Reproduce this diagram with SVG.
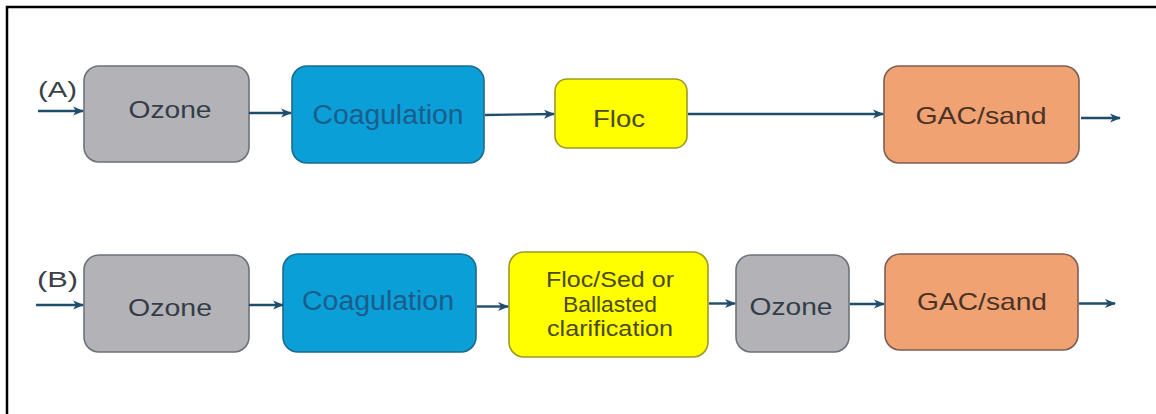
<svg xmlns="http://www.w3.org/2000/svg" width="1156" height="414" viewBox="0 0 1156 414">
<defs>
<style>
.frame{stroke:#000;stroke-width:2.5;fill:none}
.box{stroke-width:1.6}
.gray{fill:#b3b3b7;stroke:#6b727a}
.blue{fill:#0b9fd8;stroke:#1d6a8e}
.yellow{fill:#ffff00;stroke:#9c9a22}
.orange{fill:#f0a272;stroke:#7d5e52}
.t{font-family:"Liberation Sans",Arial,sans-serif;text-anchor:middle}
.tg{fill:#333d48}
.tb{fill:#1a5d8c}
.ty{fill:#4b4a12}
.to{fill:#4a3326}
.lbl{font-family:"Liberation Sans",Arial,sans-serif;fill:#3a3f48;font-size:22px}
.c{stroke:#1f4d6b;stroke-width:2.4;fill:none;marker-end:url(#ah)}
</style>
<marker id="ah" markerWidth="12" markerHeight="12" refX="10" refY="6" orient="auto" markerUnits="userSpaceOnUse">
<path d="M0,1.5 L11,6 L0,10.5 L3,6 Z" fill="#1f4d6b"/>
</marker>
</defs>
<rect width="1156" height="414" fill="#fff"/>
<path class="frame" d="M7,414 V7 H1156"/>

<g id="labels">
<text class="lbl" x="38" y="97" textLength="39" lengthAdjust="spacingAndGlyphs">(A)</text>
<text class="lbl" x="37" y="287" textLength="41" lengthAdjust="spacingAndGlyphs">(B)</text>
</g>

<g id="a-ozone">
<rect class="box gray" x="84" y="66" width="165" height="96" rx="15"/>
<text class="t tg" x="170" y="118" font-size="23" textLength="83" lengthAdjust="spacingAndGlyphs">Ozone</text>
</g>
<g id="a-coagulation">
<rect class="box blue" x="292" y="66" width="192" height="97" rx="15"/>
<text class="t tb" x="388" y="124" font-size="27" textLength="151" lengthAdjust="spacingAndGlyphs">Coagulation</text>
</g>
<g id="a-floc">
<rect class="box yellow" x="555" y="79" width="132" height="69" rx="12"/>
<text class="t ty" x="619" y="127" font-size="24" textLength="52" lengthAdjust="spacingAndGlyphs">Floc</text>
</g>
<g id="a-gac">
<rect class="box orange" x="884" y="66" width="195" height="97" rx="15"/>
<text class="t to" x="981" y="124" font-size="24" textLength="131" lengthAdjust="spacingAndGlyphs">GAC/sand</text>
</g>

<g id="b-ozone1">
<rect class="box gray" x="84" y="255" width="165" height="97" rx="15"/>
<text class="t tg" x="170" y="316" font-size="23" textLength="84" lengthAdjust="spacingAndGlyphs">Ozone</text>
</g>
<g id="b-coagulation">
<rect class="box blue" x="283" y="254" width="193" height="98" rx="15"/>
<text class="t tb" x="378" y="310" font-size="27" textLength="152" lengthAdjust="spacingAndGlyphs">Coagulation</text>
</g>
<g id="b-floc">
<rect class="box yellow" x="509" y="252" width="199" height="105" rx="15"/>
<text class="t ty" x="610" y="286.5" font-size="22.5" textLength="128" lengthAdjust="spacingAndGlyphs">Floc/Sed or</text>
<text class="t ty" x="610" y="312" font-size="22.5" textLength="94" lengthAdjust="spacingAndGlyphs">Ballasted</text>
<text class="t ty" x="610" y="336" font-size="22.5" textLength="126" lengthAdjust="spacingAndGlyphs">clarification</text>
</g>
<g id="b-ozone2">
<rect class="box gray" x="736" y="255" width="113" height="97" rx="15"/>
<text class="t tg" x="791" y="315" font-size="23" textLength="83" lengthAdjust="spacingAndGlyphs">Ozone</text>
</g>
<g id="b-gac">
<rect class="box orange" x="885" y="254" width="193" height="96" rx="15"/>
<text class="t to" x="982" y="310" font-size="24" textLength="130" lengthAdjust="spacingAndGlyphs">GAC/sand</text>
</g>

<g id="connectors">
<path class="c" d="M38,111 H83"/>
<path class="c" d="M249,113 H291"/>
<path class="c" d="M485,115 L554,114"/>
<path class="c" d="M688,114 H883"/>
<path class="c" d="M1081,118 H1120"/>
<path class="c" d="M36,305 H83"/>
<path class="c" d="M249,305 H283"/>
<path class="c" d="M477,306.5 H508"/>
<path class="c" d="M709,303.5 H735"/>
<path class="c" d="M850,304 H884"/>
<path class="c" d="M1079,303.5 H1115"/>
</g>
</svg>
